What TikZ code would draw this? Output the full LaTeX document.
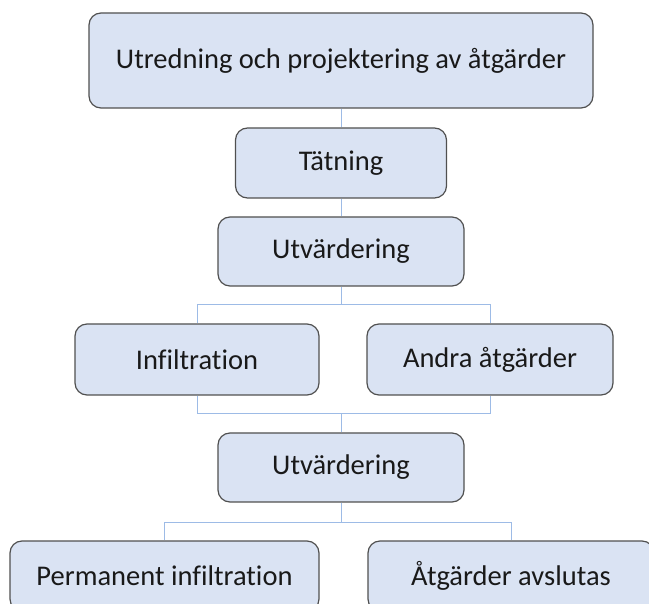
\documentclass[tikz,border=0pt]{standalone}
\usepackage{fontspec}
\setmainfont{Carlito}[Ligatures=NoCommon]
\definecolor{boxfill}{HTML}{DAE3F3}
\definecolor{boxline}{HTML}{505050}
\definecolor{linkline}{HTML}{9DBBE6}
\begin{document}
\begin{tikzpicture}[x=1pt,y=-1pt,
  box/.style={draw=boxline,fill=boxfill,line width=1.2pt,rounded corners=12pt,
    inner sep=0pt,text=black!90,font=\fontsize{28.5}{32}\selectfont},
  link/.style={draw=linkline,line width=1pt}]
\useasboundingbox (0,0) rectangle (649,604);
\clip (0,0) rectangle (649,604);
\node[box,minimum width=504pt,minimum height=95pt] (top) at (341,60.5) {Utredning och projektering av åtgärder};
\node[box,minimum width=211pt,minimum height=70pt] (tat) at (341,163) {Tätning};
\node[box,minimum width=246pt,minimum height=69pt] (utv1) at (341,251.5) {Utvärdering};
\node[box,minimum width=244pt,minimum height=71pt] (inf) at (197,359.5) {Infiltration};
\node[box,minimum width=246pt,minimum height=71pt] (andra) at (490,359.5) {Andra åtgärder};
\node[box,minimum width=246pt,minimum height=69pt] (utv2) at (341,467.5) {Utvärdering};
\node[box,minimum width=309pt,minimum height=70pt] (perm) at (164.5,576) {Permanent infiltration};
\node[box,minimum width=286pt,minimum height=70pt] (avsl) at (511,576) {Åtgärder avslutas};
% connectors
\draw[link] (top) -- (tat);
\draw[link] (tat) -- (utv1);
\draw[link] (utv1.south) -- ++(0,18) -| (inf.north);
\draw[link] (utv1.south) -- ++(0,18) -| (andra.north);
\draw[link] (inf.south) |- ++(0,18) -| (andra.south);
\draw[link] (utv2.north) -- ++(0,-19);
\draw[link] (utv2.south) -- ++(0,20) -| (perm.north);
\draw[link] (utv2.south) -- ++(0,20) -| (avsl.north);
\end{tikzpicture}
\end{document}
